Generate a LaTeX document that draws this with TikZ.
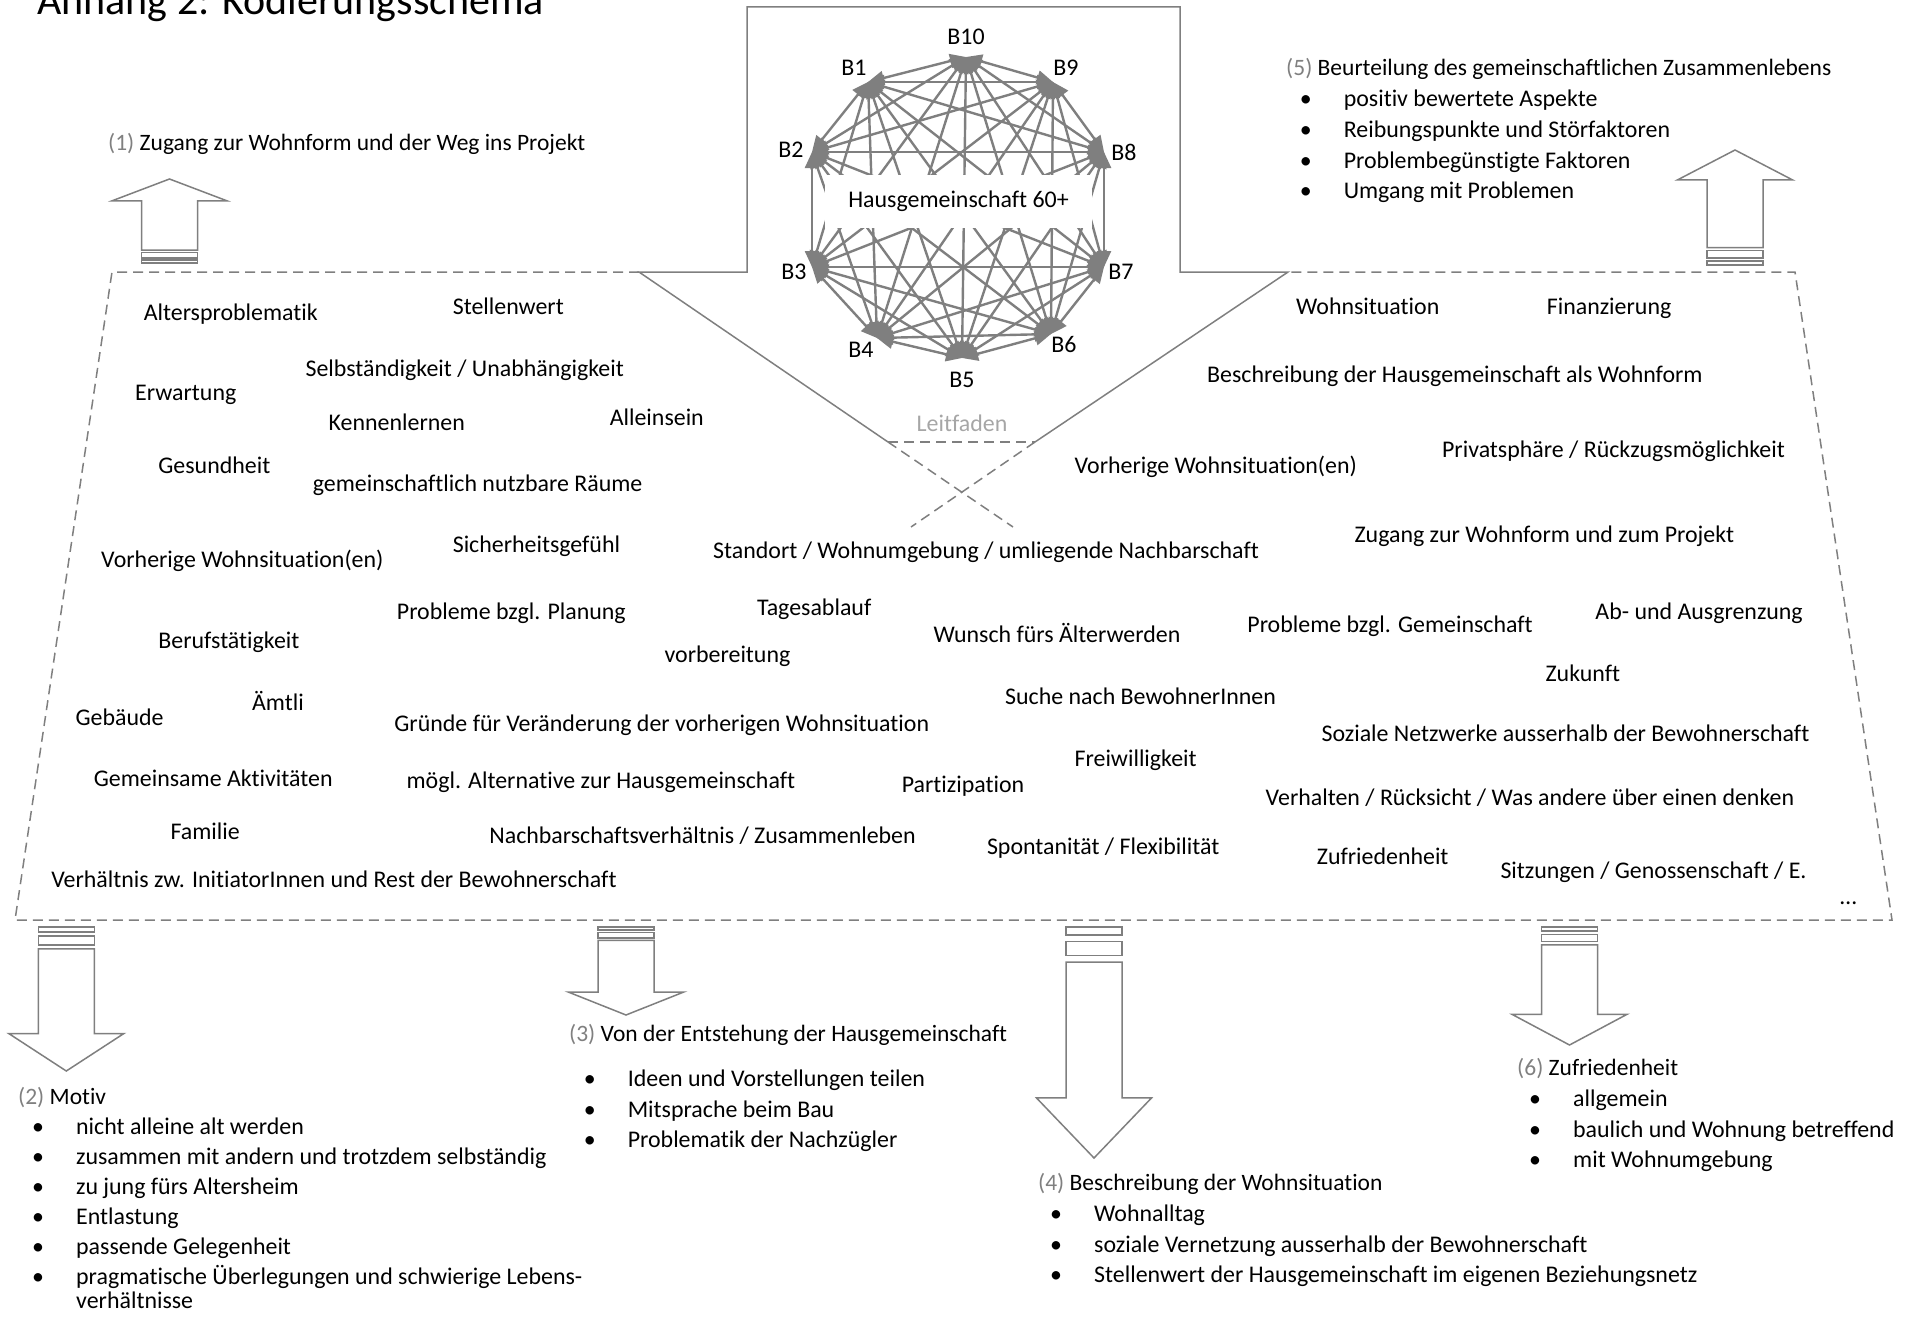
\documentclass[tikz,border=0pt]{standalone}
\usepackage{fontspec}
\setmainfont{Carlito}[Ligatures=NoCommon]
\usepackage{tikz}
\usetikzlibrary{arrows.meta, positioning}
\definecolor{linegray}{HTML}{7F7F7F}
\definecolor{numgray}{HTML}{808080}
\definecolor{guidegray}{HTML}{A6A6A6}
\newcommand\bodysize{\fontsize{23.9}{30.4}\selectfont}
\newcommand\headsize{\fontsize{23.5}{30.4}\selectfont}
\newcommand\titlesize{\fontsize{42}{50}\selectfont}
\newcommand\bul{\llap{\makebox[44pt][l]{\textbullet}}}
% striped block arrow: x, tail y, tip y
\newcommand\codearrow[3]{%
  \pgfmathsetmacro\aL{#3-#2}
  \pgfmathsetmacro\aA{#2+0.034*\aL}
  \pgfmathsetmacro\aB{#2+0.062*\aL}
  \pgfmathsetmacro\aC{#2+0.124*\aL}
  \pgfmathsetmacro\aD{#2+0.152*\aL}
  \pgfmathsetmacro\aE{#3-0.26*\aL}
  \draw[blockarrow] (#1-28,#2) rectangle (#1+28,\aA);
  \draw[blockarrow] (#1-28,\aB) rectangle (#1+28,\aC);
  \draw[blockarrow] (#1-28,\aD) -- (#1-28,\aE) -- (#1-57.5,\aE) -- (#1,#3)
    -- (#1+57.5,\aE) -- (#1+28,\aE) -- (#1+28,\aD) -- cycle;
}
\tikzset{
  codeword/.style={anchor=base west, inner sep=0pt, font=\bodysize},
  listhead/.style={anchor=base west, inner sep=0pt, font=\headsize},
  listitem/.style={anchor=base west, inner sep=0pt, font=\bodysize},
  vlabel/.style={inner sep=0pt, font=\bodysize},
  blockarrow/.style={draw=linegray, line width=1.5pt, fill=white},
  frame/.style={draw=linegray, line width=1.5pt, dash pattern=on 10pt off 6pt},
  link/.style={draw=linegray, line width=2.4pt, {Triangle[length=16pt,width=14pt]}-{Triangle[length=16pt,width=14pt]}},
}

\begin{document}
\begin{tikzpicture}[x=1pt, y=-1pt]
  \useasboundingbox (0,0) rectangle (1908,1319);

  \node[anchor=base west, inner sep=0pt, font=\titlesize] (title) at (37,15) {Anhang 2: Kodierungsschema};

  % dashed frame and big arrow
  \draw[frame] (639,272) -- (112,272) -- (15,920) -- (1892,920) -- (1795,272) -- (1288,272);
  \draw[draw=linegray, line width=1.5pt] (888,442) -- (639,272) -- (747,272) -- (747,7) -- (1180,7)
    -- (1180,272) -- (1288,272) -- (1035,442);
  \draw[frame] (888,442) -- (1035,442);
  \draw[frame] (888,442) -- (1013,527);
  \draw[frame] (1035,442) -- (911,527);
  \node[anchor=base, inner sep=0pt, font=\bodysize, text=guidegray] (guide) at (962,431) {Leitfaden};

  % residents
  \coordinate (b10) at (966,57);
  \coordinate (b1) at (868,82);
  \coordinate (b9) at (1053,82);
  \coordinate (b2) at (812,152);
  \coordinate (b8) at (1104,152);
  \coordinate (b3) at (812,267);
  \coordinate (b7) at (1104,267);
  \coordinate (b4) at (877,338);
  \coordinate (b6) at (1051,334);
  \coordinate (b5) at (962,358);
  \foreach \i in {1,...,9}{
    \pgfmathtruncatemacro\k{\i+1}
    \foreach \j in {\k,...,10}
      \draw[link] (b\i) -- (b\j);
  }
  \node[fill=white, minimum width=267pt, minimum height=53pt, font=\bodysize] (hg) at (958.5,201.5) {Hausgemeinschaft 60+};
  \node[vlabel] (l10) at (966,37) {B10};
  \node[vlabel] (l1) at (854,68) {B1};
  \node[vlabel] (l9) at (1066,68) {B9};
  \node[vlabel] (l2) at (791,150) {B2};
  \node[vlabel] (l8) at (1124,152) {B8};
  \node[vlabel] (l3) at (794,272) {B3};
  \node[vlabel] (l7) at (1121,272) {B7};
  \node[vlabel] (l4) at (861,350) {B4};
  \node[vlabel] (l6) at (1064,345) {B6};
  \node[vlabel] (l5) at (962,380) {B5};

  % codes
  \node[codeword] (w1) at (143.6,320) {Altersproblematik};
  \node[codeword] (w2) at (452.6,314) {Stellenwert};
  \node[codeword] (w3) at (305.4,376) {Selbständigkeit / Unabhängigkeit};
  \node[codeword] (w4) at (135,400) {Erwartung};
  \node[codeword] (w5) at (328.5,430) {Kennenlernen};
  \node[codeword] (w6) at (609.6,425) {Alleinsein};
  \node[codeword] (w7) at (158.2,473) {Gesundheit};
  \node[codeword] (w8) at (312.7,491) {gemeinschaftlich nutzbare Räume};
  \node[codeword] (w9) at (452.6,552) {Sicherheitsgefühl};
  \node[codeword] (w10) at (101,567) {Vorherige Wohnsituation(en)};
  \node[codeword] (w11) at (713,558) {Standort / Wohnumgebung / umliegende Nachbarschaft};
  \node[codeword] (w12) at (396.7,619) {Probleme bzgl. Planung};
  \node[codeword] (w13) at (756.8,615) {Tagesablauf};
  \node[codeword] (w14) at (158.2,648) {Berufstätigkeit};
  \node[codeword] (w15) at (664.4,662) {vorbereitung};
  \node[codeword] (w16) at (933.3,642) {Wunsch fürs Älterwerden};
  \node[codeword] (w17) at (75.4,725) {Gebäude};
  \node[codeword] (w18) at (251.9,710) {Ämtli};
  \node[codeword] (w19) at (394.2,731) {Gründe für Veränderung der vorherigen Wohnsituation};
  \node[codeword] (w20) at (1005,704) {Suche nach BewohnerInnen};
  \node[codeword] (w21) at (93.7,786) {Gemeinsame Aktivitäten};
  \node[codeword] (w22) at (406.4,788) {mögl. Alternative zur Hausgemeinschaft};
  \node[codeword] (w23) at (901.6,792) {Partizipation};
  \node[codeword] (w24) at (1074.4,766) {Freiwilligkeit};
  \node[codeword] (w25) at (170.4,839) {Familie};
  \node[codeword] (w26) at (489.2,843) {Nachbarschaftsverhältnis / Zusammenleben};
  \node[codeword] (w27) at (986.8,854) {Spontanität / Flexibilität};
  \node[codeword] (w28) at (51.1,887) {Verhältnis zw. InitiatorInnen und Rest der Bewohnerschaft};
  \node[codeword] (w29) at (1295.9,314) {Wohnsituation};
  \node[codeword] (w30) at (1546.6,314) {Finanzierung};
  \node[codeword] (w31) at (1207,382) {Beschreibung der Hausgemeinschaft als Wohnform};
  \node[codeword] (w32) at (1441.9,457) {Privatsphäre / Rückzugsmöglichkeit};
  \node[codeword] (w33) at (1074.4,473) {Vorherige Wohnsituation(en)};
  \node[codeword] (w34) at (1354.3,542) {Zugang zur Wohnform und zum Projekt};
  \node[codeword] (w35) at (1247.2,632) {Probleme bzgl. Gemeinschaft};
  \node[codeword] (w36) at (1595.2,619) {Ab- und Ausgrenzung};
  \node[codeword] (w37) at (1545.3,681) {Zukunft};
  \node[codeword] (w38) at (1321.4,741) {Soziale Netzwerke ausserhalb der Bewohnerschaft};
  \node[codeword] (w39) at (1265.5,805) {Verhalten / Rücksicht / Was andere über einen denken};
  \node[codeword] (w40) at (1316.6,864) {Zufriedenheit};
  \node[codeword] (w41) at (1500.3,878) {Sitzungen / Genossenschaft / E.};
  \node[codeword] (w42) at (1840,904) {…};

  % categories
  \codearrow{169.5}{263}{179}
  \codearrow{1735}{265}{150}
  \codearrow{66.3}{927}{1071}
  \codearrow{626}{927}{1015}
  \codearrow{1094}{927}{1158}
  \codearrow{1569.5}{927}{1045}

  \node[listhead] (h1) at (108,150) {\textcolor{numgray}{(1)} Zugang zur Wohnform und der Weg ins Projekt};

  \node[listhead] (h5) at (1286,76) {\textcolor{numgray}{(5)} Beurteilung des gemeinschaftlichen Zusammenlebens};
  \foreach \t [count=\i] in {positiv bewertete Aspekte, Reibungspunkte und Störfaktoren, Problembegünstigte Faktoren, Umgang mit Problemen}
    \node[listitem] (e\i) at (1343.6,76.5+30.5*\i) {\bul\t};

  \node[listhead] (h2) at (18,1104) {\textcolor{numgray}{(2)} Motiv};
  \foreach \t [count=\i] in {nicht alleine alt werden, zusammen mit andern und trotzdem selbständig, zu jung fürs Altersheim, Entlastung, passende Gelegenheit, pragmatische Überlegungen und schwierige Lebens-}
    \node[listitem] (m\i) at (76,1104+30*\i) {\bul\t};
  \node[listitem] (m7) at (76,1308) {verhältnisse};

  \node[listhead] (h3) at (569,1041) {\textcolor{numgray}{(3)} Von der Entstehung der Hausgemeinschaft};
  \foreach \t [count=\i] in {Ideen und Vorstellungen teilen, Mitsprache beim Bau, Problematik der Nachzügler}
    \node[listitem] (n\i) at (627.6,1056+30.5*\i) {\bul\t};

  \node[listhead] (h4) at (1038,1190) {\textcolor{numgray}{(4)} Beschreibung der Wohnsituation};
  \foreach \t [count=\i] in {Wohnalltag, soziale Vernetzung ausserhalb der Bewohnerschaft, Stellenwert der Hausgemeinschaft im eigenen Beziehungsnetz}
    \node[listitem] (s\i) at (1094,1191+30.5*\i) {\bul\t};

  \node[listhead] (h6) at (1517,1075) {\textcolor{numgray}{(6)} Zufriedenheit};
  \foreach \t [count=\i] in {allgemein, baulich und Wohnung betreffend, mit Wohnumgebung}
    \node[listitem] (z\i) at (1573,1076+30.5*\i) {\bul\t};

\end{tikzpicture}
\end{document}
